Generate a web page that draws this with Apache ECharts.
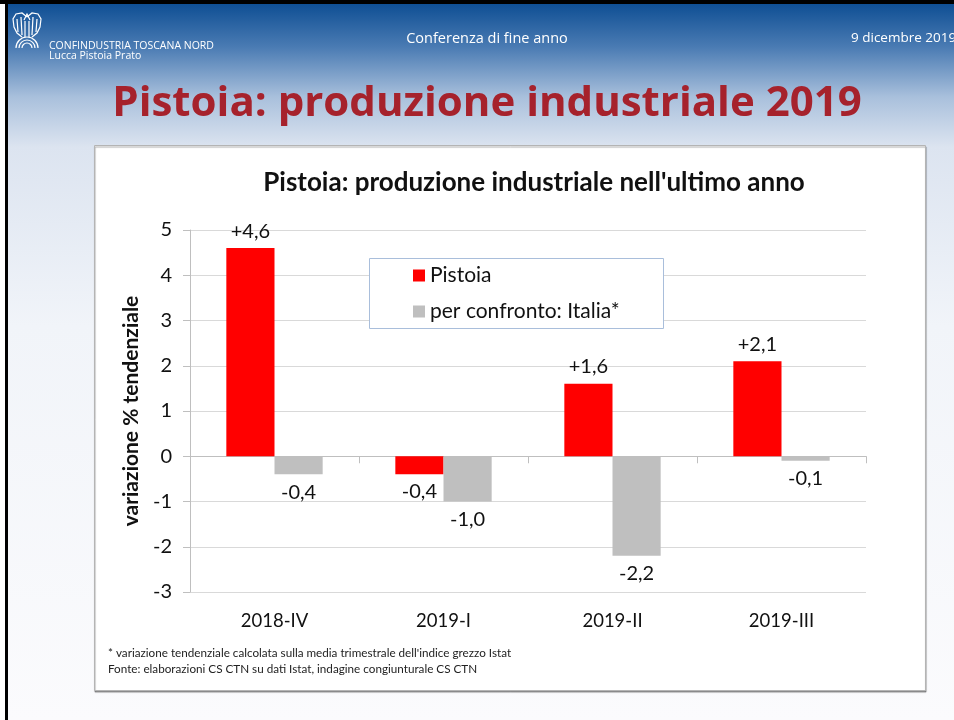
<!DOCTYPE html>
<html>
<head>
<meta charset="utf-8">
<script src="https://cdn.jsdelivr.net/npm/echarts@6/dist/echarts.min.js"></script>
<style>
  html, body { margin: 0; padding: 0; background: #ffffff; }
  #main { width: 954px; height: 720px; }
</style>
</head>
<body>
<div id="main"></div>
<script>
var categories = ['2018-IV', '2019-I', '2019-II', '2019-III'];
var pistoia = [4.6, -0.4, 1.6, 2.1];
var italia = [-0.4, -1.0, -2.2, -0.1];
var seriesNames = ['Pistoia', 'per confronto: Italia*'];
var yTicks = [-3, -2, -1, 0, 1, 2, 3, 4, 5];

var chart = echarts.init(document.getElementById('main'));

// formato italiano: virgola e segno +
function fmt(v) {
    var s = Math.abs(v).toFixed(1).replace('.', ',');
    return (v > 0 ? '+' : '-') + s;
}
function withLabels(values) {
    return values.map(function (v) {
        return {
            value: v,
            label: { position: v >= 0 ? 'top' : 'bottom' }
        };
    });
}

var chartFont = 'Lato';
var white = { stroke: '#ffffff', lineWidth: 1.2, fill: null };

// logo stilizzato (aquila)
var logo = [
    { type: 'polyline', shape: { points: [[27, 17], [22, 13], [16, 14], [13, 19], [14, 27], [17, 33], [22, 37]] }, style: white },
    { type: 'polyline', shape: { points: [[27, 17], [32, 13], [38, 14], [41, 19], [40, 27], [37, 33], [32, 37]] }, style: white },
    { type: 'polyline', shape: { points: [[24, 20], [27, 14], [30, 20]] }, style: white },
    { type: 'line', shape: { x1: 17, y1: 19, x2: 18, y2: 32 }, style: white },
    { type: 'line', shape: { x1: 21, y1: 17, x2: 22, y2: 35 }, style: white },
    { type: 'line', shape: { x1: 25, y1: 21, x2: 25, y2: 37 }, style: white },
    { type: 'line', shape: { x1: 29, y1: 21, x2: 29, y2: 37 }, style: white },
    { type: 'line', shape: { x1: 33, y1: 17, x2: 32, y2: 35 }, style: white },
    { type: 'line', shape: { x1: 37, y1: 19, x2: 36, y2: 32 }, style: white },
    { type: 'arc', shape: { cx: 27, cy: 48, r: 5, startAngle: Math.PI, endAngle: 2 * Math.PI }, style: white },
    { type: 'arc', shape: { cx: 27, cy: 48, r: 8, startAngle: Math.PI, endAngle: 2 * Math.PI }, style: white },
    { type: 'arc', shape: { cx: 27, cy: 48, r: 11, startAngle: Math.PI, endAngle: 2 * Math.PI }, style: white }
];
logo.forEach(function (el) { el.z = -8; });

var option = {
    backgroundColor: '#ffffff',
    animation: false,
    textStyle: { fontFamily: chartFont },
    graphic: [
        // sfondo della slide
        {
            type: 'rect', z: -10,
            shape: { x: 7, y: 4, width: 947, height: 716 },
            style: {
                fill: new echarts.graphic.LinearGradient(0, 0, 0, 1, [
                    { offset: 0, color: '#0f4f94' },
                    { offset: 0.06, color: '#4a7bb3' },
                    { offset: 0.13, color: '#a9c0dc' },
                    { offset: 0.2, color: '#dce4f0' },
                    { offset: 0.45, color: '#f1f4f9' },
                    { offset: 1, color: '#fbfbfd' }
                ])
            }
        },
        { type: 'rect', z: -9, shape: { x: 0, y: 0, width: 954, height: 4 }, style: { fill: '#000' } },
        { type: 'rect', z: -9, shape: { x: 5, y: 0, width: 3, height: 720 }, style: { fill: '#000' } }
    ].concat(logo).concat([
        // intestazione
        {
            type: 'text', z: -8, left: 49, top: 41,
            style: { text: 'CONFINDUSTRIA TOSCANA NORD', fill: '#ffffff', font: '10.5px "Open Sans"' }
        },
        {
            type: 'text', z: -8, left: 49, top: 51,
            style: { text: 'Lucca Pistoia Prato', fill: '#ffffff', font: '10.5px "Open Sans"' }
        },
        {
            type: 'text', z: -8, x: 487, y: 39,
            style: { text: 'Conferenza di fine anno', fill: '#ffffff', font: '14.5px "Open Sans"', align: 'center', verticalAlign: 'middle' }
        },
        {
            type: 'text', z: -8, x: 851, y: 38,
            style: { text: '9 dicembre 2019', fill: '#ffffff', font: '13.5px "Open Sans"', align: 'left', verticalAlign: 'middle' }
        },
        {
            type: 'text', z: -8, x: 487, y: 104,
            style: { text: 'Pistoia: produzione industriale 2019', fill: '#a6222c', font: 'bold 42px "Open Sans"', align: 'center', verticalAlign: 'middle' }
        },
        // riquadro del grafico
        {
            type: 'rect', z: -7,
            shape: { x: 94.5, y: 145.5, width: 831, height: 545 },
            style: { fill: '#ffffff', stroke: '#b4b4b4', lineWidth: 1, shadowColor: 'rgba(0,0,0,0.35)', shadowOffsetY: 1.5, shadowOffsetX: 0.5, shadowBlur: 1 }
        },
        {
            type: 'text', z: 5, x: 534, y: 183,
            style: { text: "Pistoia: produzione industriale nell'ultimo anno", fill: '#111', font: 'bold 26px Lato', align: 'center', verticalAlign: 'middle' }
        },
        // riquadro legenda
        {
            type: 'rect', z: 3,
            shape: { x: 369.5, y: 258.5, width: 294, height: 70 },
            style: { fill: '#ffffff', stroke: '#a9bedb', lineWidth: 1 }
        },
        // note
        {
            type: 'text', z: 5, left: 108, top: 647,
            style: { text: "* variazione tendenziale calcolata sulla media trimestrale dell'indice grezzo Istat", fill: '#222', font: '11.7px Lato' }
        },
        {
            type: 'text', z: 5, left: 108, top: 663,
            style: { text: 'Fonte: elaborazioni CS CTN su dati Istat, indagine congiunturale CS CTN', fill: '#222', font: '11.7px Lato' }
        }
    ]),
    legend: {
        data: seriesNames,
        orient: 'vertical',
        left: 413,
        top: 265,
        z: 4,
        icon: 'rect',
        itemWidth: 12,
        itemHeight: 12,
        itemGap: 15,
        padding: 0,
        textStyle: { fontSize: 21, color: '#111', fontFamily: chartFont }
    },
    grid: {
        left: 190,
        right: 88,
        top: 230,
        bottom: 128
    },
    xAxis: [
        {
            type: 'category',
            data: categories,
            axisLine: { onZero: true, lineStyle: { color: '#bfbfbf' } },
            axisTick: { show: true, length: 7, lineStyle: { color: '#bfbfbf' } },
            axisLabel: { show: false }
        },
        {
            type: 'category',
            data: categories,
            position: 'bottom',
            axisLine: { show: false, onZero: false },
            axisTick: { show: false },
            axisLabel: { fontSize: 18.5, color: '#111', margin: 20 }
        }
    ],
    yAxis: {
        type: 'value',
        min: yTicks[0],
        max: yTicks[yTicks.length - 1],
        interval: 1,
        name: 'variazione % tendenziale',
        nameLocation: 'middle',
        nameGap: 47,
        nameTextStyle: { fontSize: 21, fontWeight: 'bold', color: '#111' },
        axisLine: { show: true, lineStyle: { color: '#bfbfbf' } },
        axisTick: { show: true, length: 7, lineStyle: { color: '#bfbfbf' } },
        axisLabel: { fontSize: 20, color: '#111', margin: 18 },
        splitLine: { lineStyle: { color: '#d9d9d9' } }
    },
    series: [
        {
            name: seriesNames[0],
            type: 'bar',
            xAxisIndex: 0,
            data: withLabels(pistoia),
            barGap: '0%',
            barCategoryGap: '43%',
            itemStyle: { color: '#ff0000' },
            label: {
                show: true, distance: 7, fontSize: 20, color: '#111',
                formatter: function (p) { return fmt(p.value); }
            }
        },
        {
            name: seriesNames[1],
            type: 'bar',
            xAxisIndex: 0,
            data: withLabels(italia),
            itemStyle: { color: '#bfbfbf' },
            label: {
                show: true, distance: 8, fontSize: 20, color: '#111',
                formatter: function (p) { return fmt(p.value); }
            }
        }
    ]
};

chart.setOption(option);
</script>
</body>
</html>
